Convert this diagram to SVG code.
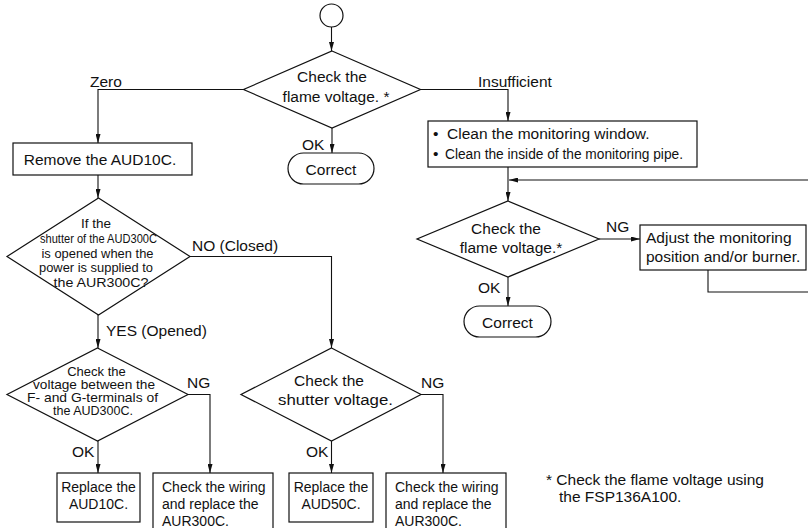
<svg xmlns="http://www.w3.org/2000/svg" width="808" height="528" viewBox="0 0 808 528">
<style>
.shape{fill:#fff;stroke:#111;stroke-width:1.2}
.ln{fill:none;stroke:#111;stroke-width:1.1}
text{font-family:"Liberation Sans",Arial,Helvetica,sans-serif;fill:#111;font-size:15.5px}
.m{text-anchor:middle}
.s{font-size:13.5px}
.t{font-size:13px}
.b{font-size:14px}
</style>
<defs>
<marker id="ah" viewBox="0 0 9 5" refX="9" refY="2.5" markerWidth="9" markerHeight="5" markerUnits="userSpaceOnUse" orient="auto">
<path d="M0,0 L9,2.5 L0,5 z" fill="#111"/>
</marker>
</defs>
<rect width="808" height="528" fill="#fff"/>
<g id="connectors">
<path class="ln" d="M331.5,27 V51" marker-end="url(#ah)"/>
<path class="ln" d="M243.5,89.5 H98 V143" marker-end="url(#ah)"/>
<path class="ln" d="M420.5,89.5 H508 V121" marker-end="url(#ah)"/>
<path class="ln" d="M332,128 V153" marker-end="url(#ah)"/>
<path class="ln" d="M98,175 V198" marker-end="url(#ah)"/>
<path class="ln" d="M508,167 V201" marker-end="url(#ah)"/>
<path class="ln" d="M808,180 H509" marker-end="url(#ah)"/>
<path class="ln" d="M599,239 H640" marker-end="url(#ah)"/>
<path class="ln" d="M708,270 V292 H808"/>
<path class="ln" d="M508,277 V306" marker-end="url(#ah)"/>
<path class="ln" d="M190,256.5 H331.5 V348" marker-end="url(#ah)"/>
<path class="ln" d="M98,315 V348" marker-end="url(#ah)"/>
<path class="ln" d="M98,441 V473" marker-end="url(#ah)"/>
<path class="ln" d="M188,394.5 H210 V473" marker-end="url(#ah)"/>
<path class="ln" d="M331.5,441 V473" marker-end="url(#ah)"/>
<path class="ln" d="M421,394.5 H443 V473" marker-end="url(#ah)"/>
<text x="90" y="87">Zero</text>
<text x="478" y="87">Insufficient</text>
<text x="302" y="150">OK</text>
<text x="606" y="232">NG</text>
<text x="478" y="293">OK</text>
<text x="192" y="251">NO (Closed)</text>
<text x="106" y="336">YES (Opened)</text>
<text x="187" y="388">NG</text>
<text x="72" y="457">OK</text>
<text x="306" y="457">OK</text>
<text x="421" y="388">NG</text>
</g>
<g id="start">
<circle class="shape" cx="331.5" cy="15.5" r="11.5"/>
</g>
<g id="check-flame-1">
<polygon class="shape" points="332,51 420.5,89.5 332,128 243.5,89.5"/>
<text class="m" x="332" y="82">Check the</text>
<text class="m" x="336" y="102">flame voltage. *</text>
</g>
<g id="correct-1">
<rect class="shape" x="288" y="153" width="86" height="31" rx="15.5"/>
<text class="m" x="331" y="175">Correct</text>
</g>
<g id="remove-aud10c">
<rect class="shape" x="13" y="143" width="179" height="32"/>
<text class="m" x="100" y="165">Remove the AUD10C.</text>
</g>
<g id="clean">
<rect class="shape" x="428" y="121" width="269" height="46"/>
<text x="433" y="139">•</text>
<text x="447" y="139">Clean the monitoring window.</text>
<text x="433" y="159">•</text>
<text x="445" y="159" textLength="238" lengthAdjust="spacingAndGlyphs">Clean the inside of the monitoring pipe.</text>
</g>
<g id="check-flame-2">
<polygon class="shape" points="508,201 599,239 508,277 417,239"/>
<text class="m" x="506" y="234">Check the</text>
<text class="m" x="511" y="253">flame voltage.*</text>
</g>
<g id="adjust">
<rect class="shape" x="640" y="225" width="166" height="45"/>
<text x="646" y="243">Adjust the monitoring</text>
<text x="646" y="262">position and/or burner.</text>
</g>
<g id="correct-2">
<rect class="shape" x="464" y="306" width="87" height="31" rx="15.5"/>
<text class="m" x="507.5" y="328">Correct</text>
</g>
<g id="shutter-open">
<polygon class="shape" points="98.5,198 190,256.5 98.5,315 7,256.5"/>
<text class="m s" x="96" y="228">If the</text>
<text class="m s" x="98.5" y="243" textLength="117" lengthAdjust="spacingAndGlyphs">shutter of the AUD300C</text>
<text class="m s" x="97.5" y="258" textLength="112" lengthAdjust="spacingAndGlyphs">is opened when the</text>
<text class="m s" x="96" y="272" textLength="114" lengthAdjust="spacingAndGlyphs">power is supplied to</text>
<text class="m s" x="101" y="287" textLength="95" lengthAdjust="spacingAndGlyphs">the AUR300C?</text>
</g>
<g id="check-fg">
<polygon class="shape" points="97.5,348 188,394.5 97.5,441 7,394.5"/>
<text class="m t" x="96.5" y="376">Check the</text>
<text class="m t" x="94" y="389" textLength="122" lengthAdjust="spacingAndGlyphs">voltage between the</text>
<text class="m t" x="92.5" y="402" textLength="131" lengthAdjust="spacingAndGlyphs">F- and G-terminals of</text>
<text class="m t" x="93" y="415" textLength="80" lengthAdjust="spacingAndGlyphs">the AUD300C.</text>
</g>
<g id="check-shutter">
<polygon class="shape" points="331.5,348 421,394.5 331.5,441 241,394.5"/>
<text class="m" x="329" y="386">Check the</text>
<text class="m" x="335.5" y="405" textLength="115" lengthAdjust="spacingAndGlyphs">shutter voltage.</text>
</g>
<g id="replace-aud10c">
<rect class="shape" x="57" y="473" width="83" height="49"/>
<text class="m b" x="98.5" y="492">Replace the</text>
<text class="m b" x="98.5" y="509">AUD10C.</text>
</g>
<g id="wiring-1">
<rect class="shape" x="153" y="473" width="120" height="62"/>
<text class="b" x="162" y="492">Check the wiring</text>
<text class="b" x="162" y="509">and replace the</text>
<text class="b" x="162" y="526">AUR300C.</text>
</g>
<g id="replace-aud50c">
<rect class="shape" x="289" y="473" width="84" height="49"/>
<text class="m b" x="331" y="492">Replace the</text>
<text class="m b" x="331" y="509">AUD50C.</text>
</g>
<g id="wiring-2">
<rect class="shape" x="386" y="473" width="120" height="62"/>
<text class="b" x="395" y="492">Check the wiring</text>
<text class="b" x="395" y="509">and replace the</text>
<text class="b" x="395" y="526">AUR300C.</text>
</g>
<g id="footnote">
<text x="546" y="485">* Check the flame voltage using</text>
<text x="559" y="502">the FSP136A100.</text>
</g>
</svg>
